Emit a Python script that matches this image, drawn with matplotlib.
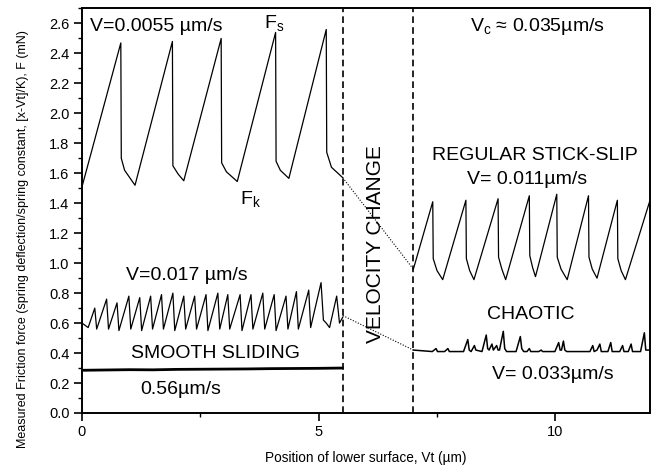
import matplotlib
matplotlib.use("Agg")
import matplotlib.pyplot as plt
from matplotlib.ticker import MultipleLocator

plt.rcParams['font.family'] = ['Liberation Sans', 'DejaVu Sans']
plt.rcParams['mathtext.fontset'] = 'custom'
plt.rcParams['mathtext.rm'] = 'Liberation Sans'
plt.rcParams['mathtext.it'] = 'Liberation Sans:italic'

# ---- data ----
# stick-slip at V = 0.0055 um/s
slow_x = [0.00, 0.82, 0.83, 0.90, 1.12, 1.91, 1.92, 2.03, 2.15, 2.94, 2.95, 3.05, 3.28,
          4.09, 4.10, 4.19, 4.37, 5.16, 5.17, 5.27, 5.51]
slow_y = [1.51, 2.47, 1.70, 1.62, 1.52, 2.48, 1.65, 1.595, 1.55, 2.50, 1.67, 1.61, 1.545,
          2.54, 1.68, 1.62, 1.566, 2.56, 1.74, 1.64, 1.57]

# stick-slip at V = 0.017 um/s
mid_x = [0.00, 0.13, 0.27, 0.31, 0.52, 0.56, 0.74, 0.78, 0.99, 1.03, 1.22, 1.26, 1.45, 1.49,
         1.68, 1.72, 1.92, 1.96, 2.15, 2.19, 2.38, 2.42, 2.62, 2.66, 2.87, 2.91, 3.08, 3.12,
         3.34, 3.38, 3.57, 3.61, 3.82, 3.86, 4.06, 4.10, 4.31, 4.35, 4.53, 4.57, 4.79, 4.83,
         5.05, 5.10, 5.16, 5.23, 5.38, 5.44, 5.51]
mid_y = [0.60, 0.57, 0.70, 0.56, 0.76, 0.56, 0.735, 0.55, 0.78, 0.56, 0.77, 0.55, 0.78, 0.56,
         0.79, 0.56, 0.80, 0.55, 0.78, 0.56, 0.78, 0.56, 0.79, 0.55, 0.80, 0.56, 0.79, 0.56,
         0.79, 0.55, 0.79, 0.56, 0.80, 0.56, 0.79, 0.55, 0.78, 0.56, 0.81, 0.56, 0.82, 0.57,
         0.87, 0.62, 0.60, 0.57, 0.78, 0.60, 0.64]

# smooth sliding at 0.56 um/s
smooth_x = [0.0, 0.5, 1.0, 1.5, 2.0, 2.5, 3.0, 3.5, 4.0, 4.5, 5.0, 5.5]
smooth_y = [0.285, 0.287, 0.289, 0.288, 0.291, 0.292, 0.293, 0.294, 0.296, 0.297, 0.298, 0.300]

# regular stick-slip at V = 0.011 um/s
reg_x = [7.00, 7.41, 7.42, 7.50, 7.62, 8.11, 8.12, 8.19, 8.28, 8.79, 8.80, 8.87, 8.95,
         9.45, 9.46, 9.52, 9.58, 10.03, 10.04, 10.12, 10.25, 10.70, 10.71, 10.78, 10.88,
         11.31, 11.32, 11.39, 11.48, 11.99]
reg_y = [0.96, 1.41, 1.03, 0.95, 0.89, 1.42, 1.03, 0.95, 0.89, 1.43, 1.04, 0.96, 0.89,
         1.45, 1.05, 0.97, 0.91, 1.46, 1.04, 0.96, 0.89, 1.45, 1.04, 0.96, 0.90,
         1.42, 1.03, 0.95, 0.89, 1.41]

# chaotic motion at V = 0.033 um/s
chaos_x = [7.00, 7.40, 7.48, 7.51, 7.66, 7.73, 7.76, 8.06, 8.15, 8.18, 8.22, 8.29, 8.32,
           8.45, 8.54, 8.57, 8.60, 8.66, 8.69, 8.76, 8.79, 8.82, 8.90, 8.93, 8.97, 9.17,
           9.26, 9.29, 9.33, 9.40, 9.45, 9.48, 9.65, 9.70, 9.73, 9.99, 10.07, 10.10, 10.13,
           10.17, 10.20, 10.24, 10.73, 10.79, 10.82, 10.88, 10.94, 10.97, 11.11, 11.17, 11.20,
           11.36, 11.42, 11.45, 11.54, 11.60, 11.63, 11.80, 11.88, 11.91, 11.99]
chaos_y = [0.42, 0.41, 0.43, 0.41, 0.41, 0.43, 0.41, 0.41, 0.49, 0.42, 0.41, 0.45, 0.42,
           0.41, 0.52, 0.43, 0.42, 0.46, 0.42, 0.45, 0.42, 0.42, 0.545, 0.43, 0.41, 0.41,
           0.51, 0.43, 0.41, 0.41, 0.43, 0.41, 0.41, 0.42, 0.41, 0.41, 0.47, 0.42, 0.42,
           0.48, 0.42, 0.41, 0.41, 0.45, 0.41, 0.42, 0.46, 0.41, 0.41, 0.47, 0.41,
           0.41, 0.45, 0.41, 0.41, 0.46, 0.41, 0.41, 0.535, 0.42, 0.42]

# dotted connectors across the velocity change
conn_hi_x = [5.51, 7.00]
conn_hi_y = [1.57, 0.96]
conn_lo_x = [5.51, 7.00]
conn_lo_y = [0.65, 0.42]

change_x = [5.52, 7.00]  # dashed markers of velocity change

# ---- figure ----
fig = plt.figure(figsize=(6.56, 4.76), dpi=100)
ax = fig.add_axes([0.125, 0.1324, 0.8659, 0.8498])

lc = 'black'
ax.plot(slow_x, slow_y, color=lc, lw=0.9)
ax.plot(mid_x, mid_y, color=lc, lw=0.9)
ax.plot(smooth_x, smooth_y, color=lc, lw=2.0)
ax.plot(reg_x, reg_y, color=lc, lw=0.9)
ax.plot(chaos_x, chaos_y, color=lc, lw=1.1)
ax.plot(conn_hi_x, conn_hi_y, color=lc, lw=0.8, linestyle=(0, (1, 1.5)))
ax.plot(conn_lo_x, conn_lo_y, color=lc, lw=0.8, linestyle=(0, (1, 1.5)))
for xv in change_x:
    ax.axvline(xv, color=lc, lw=1.2, linestyle=(0, (4, 2.5)))

ax.set_xlim(0, 12)
ax.set_ylim(0, 2.7)
ax.xaxis.set_major_locator(MultipleLocator(5))
ax.xaxis.set_minor_locator(MultipleLocator(2.5))
ax.yaxis.set_major_locator(MultipleLocator(0.2))
ax.yaxis.set_minor_locator(MultipleLocator(0.1))
ax.yaxis.set_major_formatter(plt.FuncFormatter(lambda v, p: f"{v:.1f}"))
ax.tick_params(which='major', direction='out', length=6, width=1.2, labelsize=10.5, pad=3)
ax.tick_params(which='minor', direction='out', length=3, width=1.0)
ax.tick_params(top=False, right=False)
for s in ax.spines.values():
    s.set_linewidth(1.4)

ax.set_xlabel('Position of lower surface, Vt (µm)', fontsize=9.8)
ax.xaxis.set_label_coords(0.5, -0.095)
ax.set_ylabel('Measured Friction force (spring deflection/spring constant, [x-Vt]/K), F (mN)',
              fontsize=9)
ax.yaxis.set_label_coords(-0.093, 0.43)

fs = 14
ax.text(0.17, 2.58, 'V=0.0055 µm/s', fontsize=fs, ha='left', va='center')
ax.text(4.07, 2.60, r'$\mathregular{F_s}$', fontsize=fs, ha='center', va='center')
ax.text(3.55, 1.43, r'$\mathregular{F_k}$', fontsize=fs, ha='center', va='center')
ax.text(8.19, 2.58, r'$\mathregular{V_c}$ ≈ 0.035µm/s', fontsize=fs, ha='left', va='center')
ax.text(9.56, 1.72, 'REGULAR STICK-SLIP', fontsize=fs, ha='center', va='center')
ax.text(9.41, 1.56, 'V= 0.011µm/s', fontsize=fs, ha='center', va='center')
ax.text(6.19, 1.13, 'VELOCITY CHANGE', fontsize=15, ha='center', va='center', rotation=90)
ax.text(9.49, 0.66, 'CHAOTIC', fontsize=fs, ha='center', va='center')
ax.text(9.94, 0.255, 'V= 0.033µm/s', fontsize=fs, ha='center', va='center')
ax.text(2.22, 0.92, 'V=0.017 µm/s', fontsize=fs, ha='center', va='center')
ax.text(2.83, 0.395, 'SMOOTH SLIDING', fontsize=fs, ha='center', va='center')
ax.text(2.09, 0.154, '0.56µm/s', fontsize=fs, ha='center', va='center')

fig.savefig('out.png', dpi=100)
